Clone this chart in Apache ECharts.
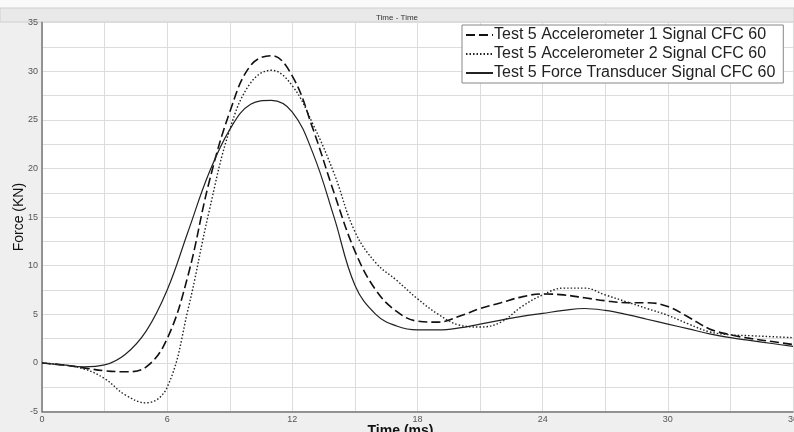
<!DOCTYPE html>
<html>
<head>
<meta charset="utf-8">
<script src="https://cdn.jsdelivr.net/npm/echarts@6/dist/echarts.min.js"></script>
<style>
  html, body { margin: 0; padding: 0; background: #efefef; }
  #chart { width: 794px; height: 432px; }
</style>
</head>
<body>
<div id="chart"></div>
<script>
// time in ms
var time = [0,1,2,3,4,5,6,7,8,9,10,11,12,13,14,15,16,17,18,19,20,21,22,23,24,25,26,27,28,29,30,31,32,33,34,35,36];

// force in KN
var accel1 = [0,-0.2,-0.5,-0.8,-0.9,-0.4,2.5,9.0,18.5,25.8,30.6,31.6,29.5,24.0,17.5,11.5,7.5,5.3,4.3,4.2,4.8,5.6,6.2,6.8,7.1,7.0,6.7,6.4,6.2,6.2,5.8,4.7,3.5,2.9,2.5,2.2,1.9];
var accel2 = [0,-0.2,-0.6,-1.6,-3.3,-4.1,-2.5,5.5,15.5,24.0,28.8,30.1,28.5,24.5,19.5,13.5,10.3,8.5,6.6,5.0,3.9,3.7,4.2,5.8,7.0,7.7,7.7,7.0,6.3,5.6,4.9,4.0,3.2,2.9,2.8,2.7,2.6];
var force  = [0,-0.2,-0.4,-0.2,0.9,3.3,7.5,13.5,19.5,24.0,26.6,27.0,25.8,21.5,15.0,8.0,5.0,3.8,3.4,3.4,3.6,4.0,4.4,4.8,5.1,5.4,5.6,5.4,5.0,4.5,4.0,3.5,3.0,2.6,2.3,2.0,1.7];

var names = [
  'Test 5 Accelerometer 1 Signal CFC 60',
  'Test 5 Accelerometer 2 Signal CFC 60',
  'Test 5 Force Transducer Signal CFC 60'
];

function pairs(ys) {
  return time.map(function (t, i) { return [t, ys[i]]; });
}

var chart = echarts.init(document.getElementById('chart'));

var option = {
  backgroundColor: '#efefef',
  animation: false,
  textStyle: { fontFamily: 'Liberation Sans, Arial, sans-serif' },
  graphic: [
    { type: 'rect', shape: { x: 0, y: 0, width: 794, height: 8 }, style: { fill: '#fafafa' }, z: -10 },
    { type: 'rect', shape: { x: 0, y: 8, width: 794, height: 14 }, style: { fill: '#e9e9e9', stroke: '#cfcfcf', lineWidth: 1 }, z: -10 },
    { type: 'rect', shape: { x: 42, y: 22, width: 751, height: 389 }, style: { fill: '#ffffff' }, z: -9 }
  ],
  title: {
    text: 'Time - Time',
    left: 'center',
    top: 9,
    textStyle: { fontSize: 8, fontWeight: 'normal', color: '#333' }
  },
  legend: {
    orient: 'vertical',
    left: 462,
    top: 25,
    align: 'left',
    itemWidth: 27,
    itemHeight: 14,
    itemGap: 3,
    padding: [2, 8, 2, 3],
    backgroundColor: '#ffffff',
    borderColor: '#888',
    borderWidth: 1,
    itemStyle: { opacity: 0 },
    textStyle: { fontSize: 16, color: '#222', padding: [0, 0, 0, -4] },
    data: names
  },
  grid: { left: 42, right: 1, top: 22.6, bottom: 20.4, show: false, outerBoundsMode: 'none' },
  xAxis: {
    type: 'value',
    min: 0,
    max: 36,
    interval: 3,
    name: 'Time (ms)',
    nameLocation: 'middle',
    nameGap: 13,
    nameMoveOverlap: false,
    nameTextStyle: { fontSize: 14, color: '#111', fontWeight: 'bold', padding: [0, 34, 0, 0] },
    axisLine: { onZero: false, lineStyle: { color: '#777', width: 1.5 } },
    axisTick: { show: false },
    axisLabel: {
      fontSize: 9, color: '#555', margin: 3,
      formatter: function (v) { return v % 6 === 0 ? v : ''; }
    },
    splitLine: { lineStyle: { color: '#dcdcdc', width: 1 } }
  },
  yAxis: {
    type: 'value',
    min: -5,
    max: 35,
    interval: 2.5,
    name: 'Force (KN)',
    nameLocation: 'middle',
    nameGap: 16,
    nameMoveOverlap: false,
    nameTextStyle: { fontSize: 14, color: '#111' },
    axisLine: { show: true, onZero: false, lineStyle: { color: '#777', width: 1.5 } },
    axisTick: { show: false },
    axisLabel: {
      fontSize: 9, color: '#555', margin: 4,
      formatter: function (v) { return v % 5 === 0 ? v : ''; }
    },
    splitLine: { lineStyle: { color: '#dcdcdc', width: 1 } }
  },
  series: [
    {
      name: names[0], type: 'line', data: pairs(accel1), smooth: 0.4,
      symbol: 'none', lineStyle: { color: '#111', width: 1.6, type: [9, 4] }
    },
    {
      name: names[1], type: 'line', data: pairs(accel2), smooth: 0.4,
      symbol: 'none', lineStyle: { color: '#222', width: 1.4, type: [1.5, 2] }
    },
    {
      name: names[2], type: 'line', data: pairs(force), smooth: 0.4,
      symbol: 'none', lineStyle: { color: '#222', width: 1.2, type: 'solid' }
    }
  ]
};

chart.setOption(option);
</script>
</body>
</html>
